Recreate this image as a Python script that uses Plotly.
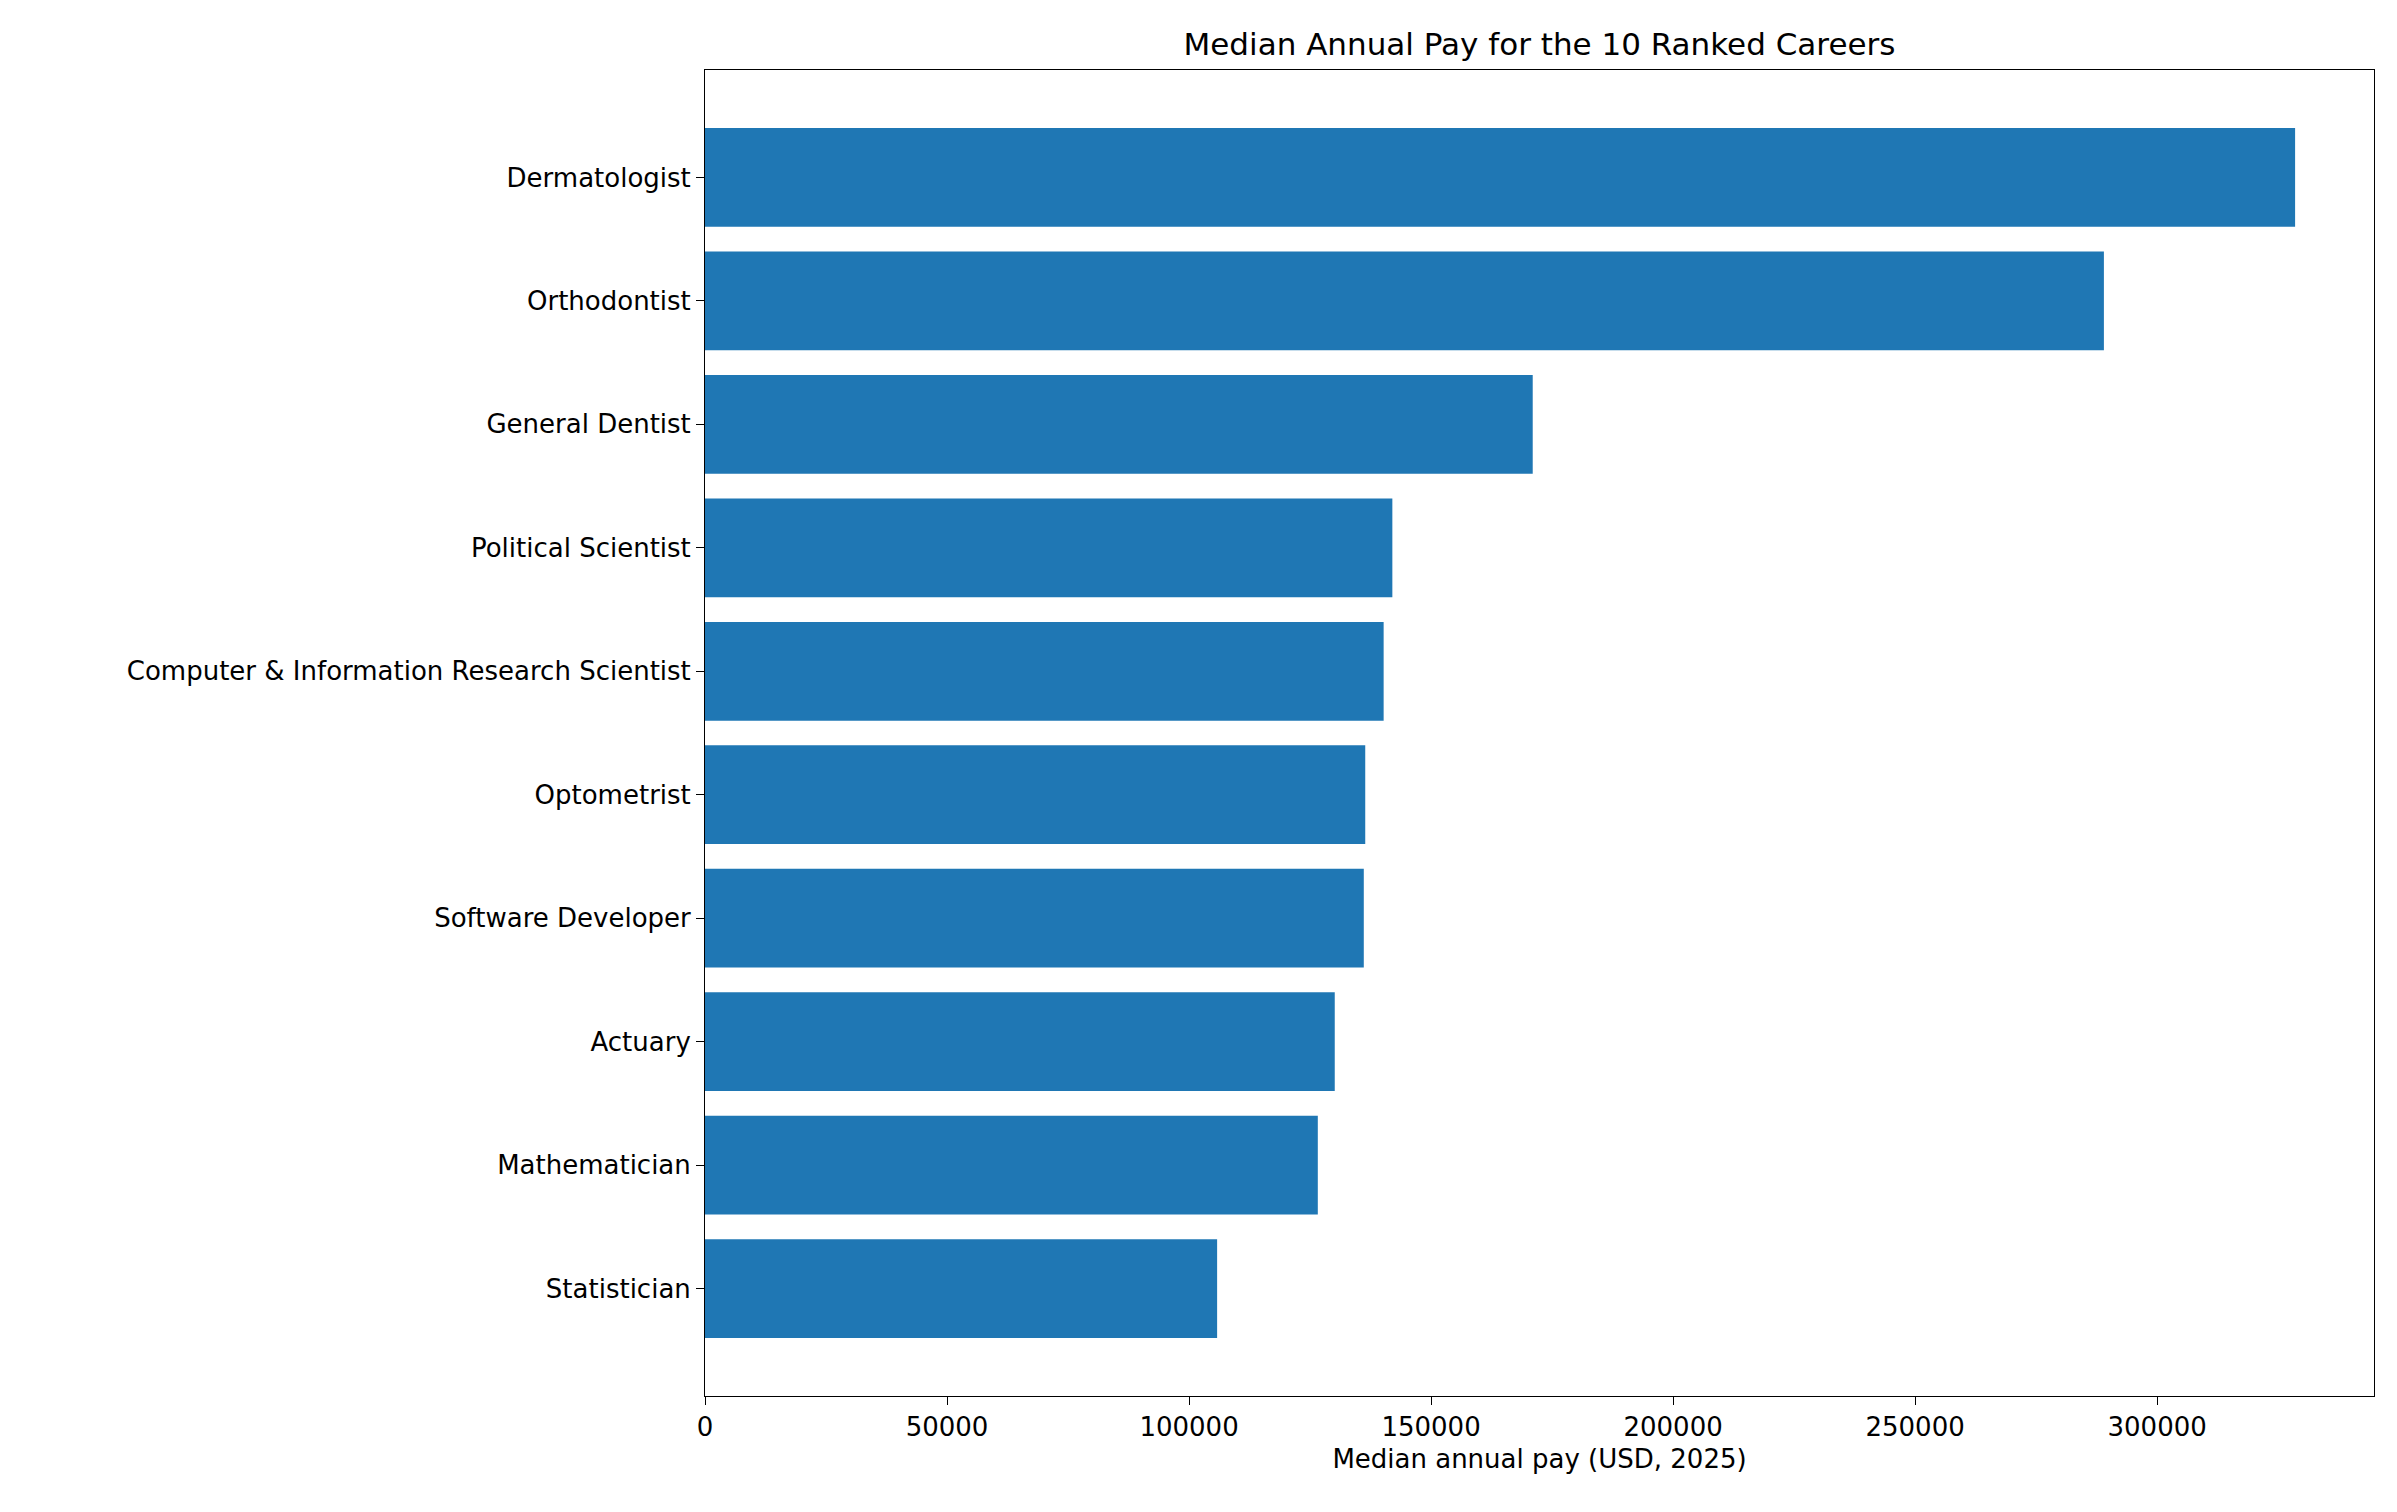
import plotly.graph_objects as go

careers = ["Dermatologist", "Orthodontist", "General Dentist", "Political Scientist",
           "Computer & Information Research Scientist", "Optometrist", "Software Developer",
           "Actuary", "Mathematician", "Statistician"]
pay = [328500, 289000, 171000, 142000, 140200, 136400, 136100, 130100, 126600, 105800]
xticks = [0, 50000, 100000, 150000, 200000, 250000, 300000]

ypos = list(range(len(careers)))
fig = go.Figure(go.Bar(x=pay, y=ypos, orientation="h", width=0.8,
                       marker=dict(color="#1f77b4", line=dict(width=0))))
font = dict(family="DejaVu Sans", size=26, color="black")
L, R, T, B = 697, 31, 62, 124
fig.update_layout(
    width=2397, height=1512, plot_bgcolor="white", paper_bgcolor="white",
    margin=dict(l=L, r=R, t=T, b=B), font=font, showlegend=False,
    title=dict(text="Median Annual Pay for the 10 Ranked Careers", x=(L + (2397 - L - R) / 2) / 2397,
               xanchor="center", y=1 - 36 / 1512, yanchor="middle",
               font=dict(size=31, family="DejaVu Sans")),
)
fig.update_xaxes(range=[0, 344800], tickvals=xticks, ticktext=[str(v) for v in xticks],
                 showgrid=False, zeroline=False, showline=True, linecolor="black", mirror=True,
                 ticks="outside", ticklen=8, tickcolor="black",
                 title=dict(text="Median annual pay (USD, 2025)", font=dict(size=26), standoff=8))
fig.update_yaxes(range=[9.87, -0.87], tickvals=ypos, ticktext=careers, showgrid=False,
                 zeroline=False, showline=True, linecolor="black", mirror=True,
                 ticks="outside", ticklen=8, tickcolor="black")
fig.write_html("out.html")
